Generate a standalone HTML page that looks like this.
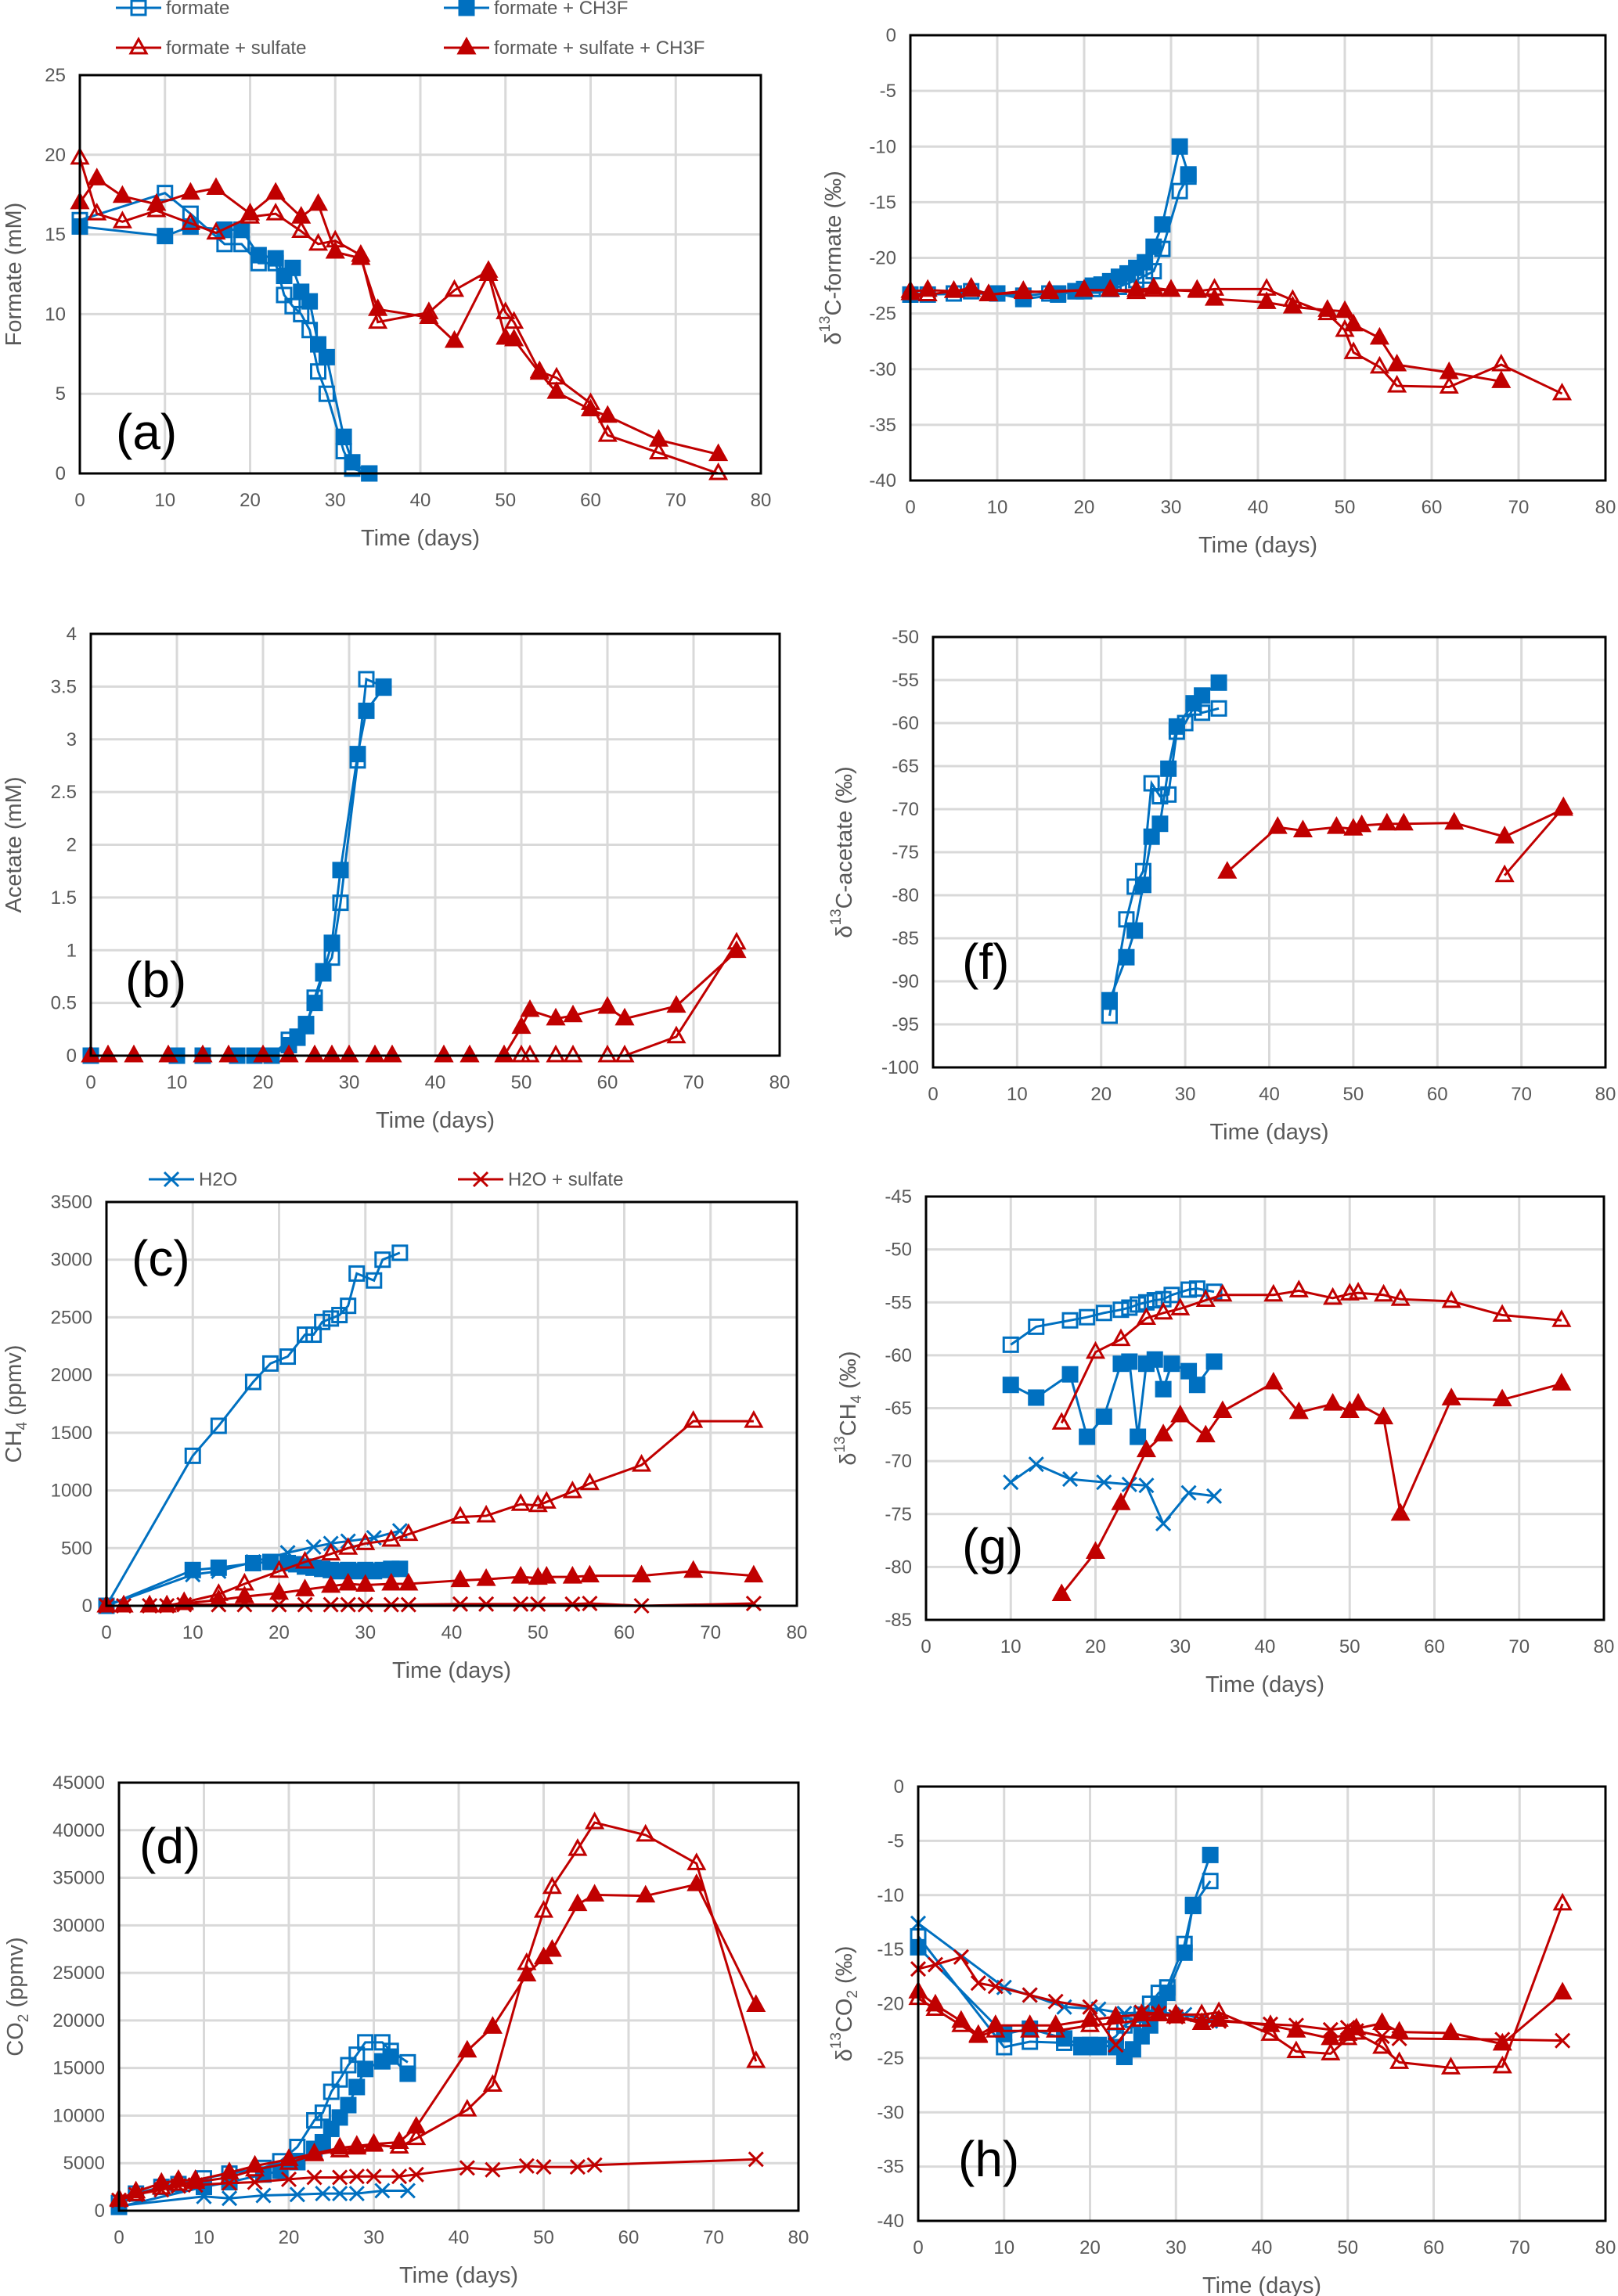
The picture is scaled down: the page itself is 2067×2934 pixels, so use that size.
<!DOCTYPE html>
<html><head><meta charset="utf-8"><style>
html,body{margin:0;padding:0;background:#fff;}
svg{display:block;font-family:"Liberation Sans",sans-serif;}
</style></head><body>
<svg id="fig" width="2067" height="2934" viewBox="0 0 2067 2934" xmlns="http://www.w3.org/2000/svg"></svg>
<script>
// ---------- data ----------
const xTicks=[0,10,20,30,40,50,60,70,80];
// (a) formate concentration
const aFS_x=[0,10,13,17,19,21,23,24,25,26,27,28,29,31,32,34];
const aFS_y=[15.9,17.6,16.3,14.4,14.4,13.2,13.2,11.2,10.5,10,9,6.4,5,1.4,0.3,0];
const aFC_x=[0,10,13,17,19,21,23,24,25,26,27,28,29,31,32,34];
const aFC_y=[15.5,14.9,15.5,15.3,15.3,13.7,13.5,12.4,12.9,11.4,10.8,8.1,7.3,2.3,0.7,0];
const aSS_x=[0,2,5,9,13,16,20,23,26,28,30,33,35,41,44,48,50,51,54,56,60,62,68,75];
const aSS_y=[19.8,16.3,15.8,16.5,15.7,15.1,16.1,16.3,15.2,14.4,14.6,13.7,9.5,10.1,11.5,12.7,10.1,9.5,6.4,6,4.4,2.4,1.3,0];
const aSC_x=[0,2,5,9,13,16,20,23,26,28,30,33,35,41,44,48,50,51,54,56,60,62,68,75];
const aSC_y=[17,18.5,17.4,16.9,17.6,17.9,16.3,17.6,16.1,16.9,13.9,13.5,10.3,9.8,8.3,12.5,8.5,8.4,6.3,5.1,4,3.6,2.1,1.2];
const aYTicks=[0,5,10,15,20,25];
// (e) d13C formate
const eFS_x=[0,2,5,7,10,13,16,17,19,20,21,23,24,25,26,27,28,29,31,32];
const eFS_y=[-23.3,-23.3,-23.2,-23,-23.2,-23.4,-23.2,-23.2,-23,-23,-22.8,-22.8,-22.6,-22.3,-22,-21.6,-21.2,-19.2,-14,-12.7];
const eFC_x=[0,10,13,17,19,20,21,22,23,24,25,26,27,28,29,31,32];
const eFC_y=[-23.3,-23.2,-23.7,-23.3,-23,-22.8,-22.5,-22.4,-22.1,-21.7,-21.4,-20.9,-20.4,-19,-17,-10,-12.5];
const eSS_x=[0,2,5,7,9,13,16,20,23,26,28,30,33,35,41,44,48,50,51,54,56,62,68,75];
const eSS_y=[-23.2,-23.3,-23,-22.9,-23.3,-23,-23.1,-22.9,-22.9,-23.1,-22.9,-22.9,-23,-22.8,-22.8,-23.8,-25,-26.5,-28.5,-29.8,-31.5,-31.6,-29.6,-32.2];
const eSC_x=[0,2,5,7,9,13,16,20,23,26,28,30,33,35,41,44,48,50,51,54,56,62,68];
const eSC_y=[-23,-22.9,-23,-22.7,-23.3,-23.1,-23,-22.9,-22.9,-22.9,-22.7,-22.9,-22.9,-23.7,-24,-24.4,-24.7,-24.8,-26,-27.2,-29.6,-30.3,-31.1];
const eYTicks=[-40,-35,-30,-25,-20,-15,-10,-5,0];
// (b) acetate
const bFS_x=[0,10,13,17,19,21,23,24,25,26,27,28,29,31,32,34];
const bFS_y=[0,0,0,0,0,0,0.15,0.18,0.28,0.55,0.8,0.93,1.45,2.8,3.57,3.5];
const bFC_x=[0,10,13,17,19,21,23,24,25,26,27,28,29,31,32,34];
const bFC_y=[0,0,0,0,0,0,0.1,0.17,0.3,0.5,0.78,1.07,1.76,2.86,3.27,3.49];
const bSS_x=[0,2,5,9,13,16,20,23,26,28,30,33,35,41,44,48,50,51,54,56,60,62,68,75];
const bSS_y=[0,0,0,0,0,0,0,0,0,0,0,0,0,0,0,0,0,0,0,0,0,0,0.18,1.07];
const bSC_x=[0,2,5,9,13,16,20,23,26,28,30,33,35,41,44,48,50,51,54,56,60,62,68,75];
const bSC_y=[0,0,0,0,0,0,0,0,0,0,0,0,0,0,0,0,0.27,0.43,0.35,0.38,0.46,0.35,0.47,0.99];
const bYTicks=[0,0.5,1,1.5,2,2.5,3,3.5,4];
// (f) d13C acetate
const fFS_x=[21,23,24,25,26,27,28,29,30,31,32,34];
const fFS_y=[-94,-82.8,-79,-77.2,-67,-68.5,-68.3,-61,-60,-58.2,-58.8,-58.3];
const fFC_x=[21,23,24,25,26,27,28,29,31,32,34];
const fFC_y=[-92.2,-87.2,-84.1,-78.8,-73.2,-71.7,-65.3,-60.4,-57.7,-56.8,-55.3];
const fSS_x=[68,75];
const fSS_y=[-77.7,-69.8];
const fSC_x=[35,41,44,48,50,51,54,56,62,68,75];
const fSC_y=[-77.3,-72.1,-72.5,-72.1,-72.3,-71.9,-71.7,-71.7,-71.6,-73.2,-70];
const fYTicks=[-100,-95,-90,-85,-80,-75,-70,-65,-60,-55,-50];
// (c) CH4
const cFS_x=[0,10,13,17,19,21,23,24,25,26,27,28,29,31,32,34];
const cFS_y=[0,1300,1560,1940,2100,2160,2350,2350,2460,2490,2520,2600,2880,2820,3000,3060];
const cFC_x=[0,10,13,17,19,21,22,23,24,25,26,27,28,29,30,31,32,33,34];
const cFC_y=[0,310,330,370,380,370,360,340,330,320,310,300,310,300,310,300,310,320,320];
const cHX_x=[0,10,13,17,21,24,26,28,31,34];
const cHX_y=[0,270,300,380,460,510,540,560,590,650];
const cSS_x=[0,2,5,7,9,13,16,20,23,26,28,30,33,35,41,44,48,50,51,54,56,62,68,75];
const cSS_y=[0,0,0,0,30,100,190,300,380,450,500,540,570,620,770,780,880,870,900,990,1060,1220,1600,1600];
const cSC_x=[0,2,5,7,9,13,16,20,23,26,28,30,33,35,41,44,48,50,51,54,56,62,68,75];
const cSC_y=[0,0,0,0,20,50,80,110,140,170,190,180,190,190,220,230,250,240,250,250,260,260,300,260];
const cHSX_x=[0,2,5,7,9,13,16,20,23,26,28,30,33,35,41,44,48,50,54,56,62,75];
const cHSX_y=[0,0,0,0,10,10,10,10,10,10,10,10,10,10,15,15,15,15,15,20,0,20];
const cYTicks=[0,500,1000,1500,2000,2500,3000,3500];
// (g) d13C CH4
const gFS_x=[10,13,17,19,21,23,24,25,26,27,28,29,31,32,34];
const gFS_y=[-59,-57.3,-56.7,-56.4,-56,-55.7,-55.5,-55.2,-55,-54.8,-54.7,-54.3,-53.8,-53.7,-54];
const gFC_x=[10,13,17,19,21,23,24,25,26,27,28,29,31,32,34];
const gFC_y=[-62.8,-64,-61.8,-67.7,-65.8,-60.8,-60.6,-67.7,-60.8,-60.4,-63.2,-60.8,-61.5,-62.8,-60.6];
const gHX_x=[10,13,17,21,24,26,28,31,34];
const gHX_y=[-72,-70.3,-71.7,-72,-72.2,-72.3,-75.9,-73,-73.3];
const gSS_x=[16,20,23,26,28,30,33,35,41,44,48,50,51,54,56,62,68,75];
const gSS_y=[-66.4,-59.7,-58.5,-56.5,-56,-55.6,-54.8,-54.3,-54.3,-53.9,-54.6,-54.2,-54.1,-54.3,-54.7,-54.9,-56.2,-56.7];
const gSC_x=[16,20,23,26,28,30,33,35,41,44,48,50,51,54,56,62,68,75];
const gSC_y=[-82.6,-78.6,-74,-69,-67.5,-65.7,-67.6,-65.3,-62.6,-65.4,-64.6,-65.3,-64.6,-65.9,-75,-64.1,-64.2,-62.7];
const gYTicks=[-85,-80,-75,-70,-65,-60,-55,-50,-45];
// (d) CO2
const dFS_x=[0,2,5,7,10,13,17,19,21,23,24,25,26,27,28,29,31,32,34];
const dFS_y=[800,1800,2500,2800,3400,3900,4500,5200,6700,9500,10300,12500,13800,15300,16400,17700,17700,16800,15600];
const dFC_x=[0,10,13,17,19,21,23,24,25,26,27,28,29,31,32,34];
const dFC_y=[400,2500,3000,3800,4200,5100,6500,7200,8600,9800,11100,13000,14900,15700,16200,14400];
const dHX_x=[0,10,13,17,21,24,26,28,31,34];
const dHX_y=[500,1500,1300,1600,1700,1800,1800,1800,2100,2100];
const dSS_x=[0,2,5,7,9,13,16,20,23,26,28,30,33,35,41,44,48,50,51,54,56,62,68,75];
const dSS_y=[1100,1700,2400,2800,3000,3500,4300,5000,5900,6300,6600,6900,6700,7600,10600,13200,26000,31500,34000,38000,40800,39500,36500,15700];
const dSC_x=[0,2,5,7,9,13,16,20,23,26,28,30,33,35,41,44,48,50,51,54,56,62,68,75];
const dSC_y=[1200,2000,2900,3200,3200,4000,4700,5400,6000,6600,6800,7000,7200,8800,16800,19300,24800,26600,27400,32200,33200,33100,34300,21600];
const dHSX_x=[0,2,5,7,9,13,16,20,23,26,28,30,33,35,41,44,48,50,54,56,75];
const dHSX_y=[1100,1700,2200,2600,2700,2900,3000,3300,3500,3500,3600,3600,3600,3800,4500,4300,4700,4600,4600,4800,5400];
const dYTicks=[0,5000,10000,15000,20000,25000,30000,35000,40000,45000];
// (h) d13C CO2
const hFS_x=[0,10,13,17,19,20,21,23,24,25,26,27,28,29,31,32,34];
const hFS_y=[-13.8,-24,-23.5,-23.6,-24,-24,-24,-23,-22,-21.5,-21,-20,-19,-18.5,-14.5,-11,-8.7];
const hFC_x=[0,10,13,17,19,20,21,23,24,25,26,27,28,29,31,32,34];
const hFC_y=[-14.8,-22.8,-22.3,-23.2,-23.8,-23.8,-23.8,-24,-24.9,-24.2,-23,-22,-20,-19,-15.3,-10.9,-6.3];
const hHX_x=[0,10,13,17,21,24,26,28,31,34];
const hHX_y=[-12.6,-18.5,-19.2,-20.3,-20.5,-20.9,-20.8,-20.8,-21,-21.6];
const hSS_x=[0,2,5,7,9,13,16,20,23,26,28,30,33,35,41,44,48,50,51,54,56,62,68,75];
const hSS_y=[-19.5,-20.5,-22,-23,-22.5,-22.5,-22.5,-22,-21.8,-21.5,-21,-21,-21,-20.8,-22.8,-24.4,-24.6,-23.2,-22.7,-24,-25.4,-25.9,-25.8,-10.8];
const hSC_x=[0,2,5,7,9,13,16,20,23,26,28,30,33,35,41,44,48,50,51,54,56,62,68,75];
const hSC_y=[-18.9,-20.1,-21.6,-22.9,-22,-22,-22,-21.5,-21.2,-21,-21,-21.2,-21.8,-21.5,-22,-22.5,-23.2,-22.8,-22.3,-21.8,-22.6,-22.7,-23.7,-19];
const hHSX_x=[0,2,5,7,9,13,16,20,23,26,28,30,33,35,41,44,48,50,51,54,56,68,75];
const hHSX_y=[-16.8,-16.4,-15.7,-18.1,-18.4,-19.2,-19.8,-20.3,-23.8,-20.8,-20.9,-21.2,-21.6,-21.6,-21.9,-22,-22.4,-22.2,-22.5,-23,-23.2,-23.3,-23.4];
const hYTicks=[-40,-35,-30,-25,-20,-15,-10,-5,0];

// ---------- drawing ----------
const NS='http://www.w3.org/2000/svg';
const svg=document.getElementById('fig');
const BLUE='#0070C0', RED='#C00000';
function mk(tag,attrs,parent){const e=document.createElementNS(NS,tag);for(const k in attrs)e.setAttribute(k,attrs[k]);(parent||svg).appendChild(e);return e;}
function marker(g,type,color,px,py){
  let m;
  if(type==='sq'||type==='sqf'){
    m=mk('rect',{x:px-9,y:py-9,width:18,height:18,fill:type==='sqf'?color:'#fff','fill-opacity':type==='sqf'?1:0,stroke:color,'stroke-width':3},g);
  }else if(type==='tri'||type==='trif'){
    m=mk('polygon',{points:`${px},${py-11} ${px+10},${py+7} ${px-10},${py+7}`,fill:type==='trif'?color:'none',stroke:color,'stroke-width':3},g);
  }else{
    m=mk('path',{d:`M${px-9},${py-9}L${px+9},${py+9}M${px+9},${py-9}L${px-9},${py+9}`,stroke:color,'stroke-width':3,fill:'none'},g);
  }
  
  
}
function panel(p){
  const g=mk('g',{});
  
  
  const ymin=p.yt[0], ymax=p.yt[p.yt.length-1];
  const X=v=>p.L+(v-0)/80*(p.R-p.L);
  const Y=v=>p.B-(v-ymin)/(ymax-ymin)*(p.B-p.T);
  const grid=mk('g',{stroke:'#d9d9d9','stroke-width':3},g);
  
  
  xTicks.forEach(t=>{mk('line',{x1:X(t),x2:X(t),y1:p.T,y2:p.B},grid);});
  p.yt.forEach(t=>{mk('line',{x1:p.L,x2:p.R,y1:Y(t),y2:Y(t)},grid);});
  const xl=mk('g',{fill:'#595959','font-size':24,'text-anchor':'middle'},g);
  
  
  xTicks.forEach(t=>{const e=mk('text',{x:X(t),y:p.B+42},xl);e.textContent=t;});
  const yl=mk('g',{fill:'#595959','font-size':24,'text-anchor':'end'},g);
  
  
  p.yt.forEach(t=>{const e=mk('text',{x:p.L-18,y:Y(t)+8},yl);e.textContent=t;});
  p.series.forEach(s=>{
    const sg=mk('g',{},g);
    
    
    const pts=s.x.map((v,i)=>X(v)+','+Y(s.y[i])).join(' ');
    mk('polyline',{points:pts,fill:'none',stroke:s.c,'stroke-width':3},sg);
    s.x.forEach((v,i)=>marker(sg,s.m,s.c,X(v),Y(s.y[i])));
  });
  const fr=mk('rect',{x:p.L,y:p.T,width:p.R-p.L,height:p.B-p.T,fill:'none',stroke:'#000','stroke-width':3},g);
  
  
  const xt=mk('text',{x:(p.L+p.R)/2,y:p.B+92,'font-size':29,fill:'#595959','text-anchor':'middle'},g);
  
  
  xt.textContent='Time (days)';
  const yx=p.L-p.yo, yc=(p.T+p.B)/2;
  const yt=mk('text',{x:yx,y:yc,'font-size':29,fill:'#595959','text-anchor':'middle','dominant-baseline':'central',transform:`rotate(-90 ${yx} ${yc})`},g);
  
  
  yt.innerHTML=p.title;
  if(p.lab){
    const lb=mk('text',{x:p.lab[0],y:p.lab[1],'font-size':64,fill:'#000'},g);
    
    
    lb.textContent=p.id;
  }
}
function S(name,x,y,m,c){return {name,x,y,m,c};}
panel({id:'(a)',L:102,R:972,T:96,B:605,yt:aYTicks,yo:84,title:'Formate (mM)',lab:[148,574],
  series:[S('formate',aFS_x,aFS_y,'sq',BLUE),S('formate-ch3f',aFC_x,aFC_y,'sqf',BLUE),S('formate-sulfate',aSS_x,aSS_y,'tri',RED),S('formate-sulfate-ch3f',aSC_x,aSC_y,'trif',RED)]});
panel({id:'(e)',L:1163,R:2051,T:45,B:614,yt:eYTicks,yo:98,title:'δ<tspan baseline-shift="super" font-size="19">13</tspan>C-formate (‰)',
  series:[S('formate',eFS_x,eFS_y,'sq',BLUE),S('formate-ch3f',eFC_x,eFC_y,'sqf',BLUE),S('formate-sulfate',eSS_x,eSS_y,'tri',RED),S('formate-sulfate-ch3f',eSC_x,eSC_y,'trif',RED)]});
panel({id:'(b)',L:116,R:996,T:810,B:1349,yt:bYTicks,yo:98,title:'Acetate (mM)',lab:[160,1274],
  series:[S('formate',bFS_x,bFS_y,'sq',BLUE),S('formate-ch3f',bFC_x,bFC_y,'sqf',BLUE),S('formate-sulfate',bSS_x,bSS_y,'tri',RED),S('formate-sulfate-ch3f',bSC_x,bSC_y,'trif',RED)]});
panel({id:'(f)',L:1192,R:2051,T:814,B:1364,yt:fYTicks,yo:113,title:'δ<tspan baseline-shift="super" font-size="19">13</tspan>C-acetate (‰)',lab:[1229,1251],
  series:[S('formate',fFS_x,fFS_y,'sq',BLUE),S('formate-ch3f',fFC_x,fFC_y,'sqf',BLUE),S('formate-sulfate',fSS_x,fSS_y,'tri',RED),S('formate-sulfate-ch3f',fSC_x,fSC_y,'trif',RED)]});
panel({id:'(c)',L:136,R:1018,T:1536,B:2052,yt:cYTicks,yo:118,title:'CH<tspan baseline-shift="sub" font-size="19">4</tspan> (ppmv)',lab:[168,1630],
  series:[S('formate',cFS_x,cFS_y,'sq',BLUE),S('formate-ch3f',cFC_x,cFC_y,'sqf',BLUE),S('h2o',cHX_x,cHX_y,'x',BLUE),S('formate-sulfate',cSS_x,cSS_y,'tri',RED),S('formate-sulfate-ch3f',cSC_x,cSC_y,'trif',RED),S('h2o-sulfate',cHSX_x,cHSX_y,'x',RED)]});
panel({id:'(g)',L:1183,R:2049,T:1529,B:2070,yt:gYTicks,yo:99,title:'δ<tspan baseline-shift="super" font-size="19">13</tspan>CH<tspan baseline-shift="sub" font-size="19">4</tspan> (‰)',lab:[1229,1998],
  series:[S('formate',gFS_x,gFS_y,'sq',BLUE),S('formate-ch3f',gFC_x,gFC_y,'sqf',BLUE),S('h2o',gHX_x,gHX_y,'x',BLUE),S('formate-sulfate',gSS_x,gSS_y,'tri',RED),S('formate-sulfate-ch3f',gSC_x,gSC_y,'trif',RED)]});
panel({id:'(d)',L:152,R:1020,T:2278,B:2825,yt:dYTicks,yo:132,title:'CO<tspan baseline-shift="sub" font-size="19">2</tspan> (ppmv)',lab:[178,2381],
  series:[S('formate',dFS_x,dFS_y,'sq',BLUE),S('formate-ch3f',dFC_x,dFC_y,'sqf',BLUE),S('h2o',dHX_x,dHX_y,'x',BLUE),S('formate-sulfate',dSS_x,dSS_y,'tri',RED),S('formate-sulfate-ch3f',dSC_x,dSC_y,'trif',RED),S('h2o-sulfate',dHSX_x,dHSX_y,'x',RED)]});
panel({id:'(h)',L:1173,R:2051,T:2283,B:2838,yt:hYTicks,yo:94,title:'δ<tspan baseline-shift="super" font-size="19">13</tspan>CO<tspan baseline-shift="sub" font-size="19">2</tspan> (‰)',lab:[1224,2781],
  series:[S('formate',hFS_x,hFS_y,'sq',BLUE),S('formate-ch3f',hFC_x,hFC_y,'sqf',BLUE),S('h2o',hHX_x,hHX_y,'x',BLUE),S('formate-sulfate',hSS_x,hSS_y,'tri',RED),S('formate-sulfate-ch3f',hSC_x,hSC_y,'trif',RED),S('h2o-sulfate',hHSX_x,hHSX_y,'x',RED)]});

// legends
function legend(x,y,label,m,c){
  const g=mk('g',{});
  
  
  mk('line',{x1:x,x2:x+58,y1:y,y2:y,stroke:c,'stroke-width':3},g);
  marker(g,m,c,x+29,y);
  const t=mk('text',{x:x+64,y:y+8,'font-size':24,fill:'#595959'},g);
  t.textContent=label;
}
legend(148,10,'formate','sq',BLUE);
legend(567,10,'formate + CH3F','sqf',BLUE);
legend(148,61,'formate + sulfate','tri',RED);
legend(567,61,'formate + sulfate + CH3F','trif',RED);
legend(190,1507,'H2O','x',BLUE);
legend(585,1507,'H2O + sulfate','x',RED);
</script>
</body></html>
